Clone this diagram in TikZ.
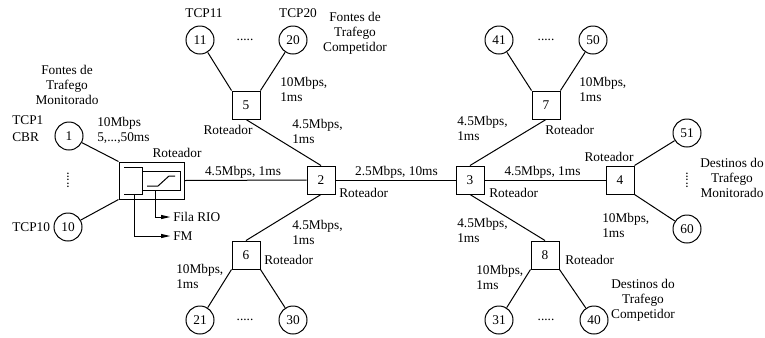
\documentclass[tikz,border=0pt]{standalone}
\usepackage{fontspec}
\setmainfont{Liberation Serif}
\usetikzlibrary{arrows.meta}
\definecolor{LinkClr}{rgb}{0,0,0}

\begin{document}
\begin{tikzpicture}[x=0.75pt,y=-0.75pt,
  host/.style={draw=LinkClr,circle,minimum size=21pt,inner sep=0pt,line width=0.75pt,font=\fontsize{10}{11}\selectfont},
  router/.style={draw=LinkClr,minimum size=21pt,inner sep=0pt,line width=0.75pt,font=\fontsize{10}{11}\selectfont},
  link/.style={draw=LinkClr,line width=0.75pt},
  txt/.style={inner sep=0pt,align=left,font=\fontsize{10}{11.25}\selectfont},
  tip/.style={-{Triangle[length=7pt,width=3pt]}}]
\useasboundingbox (0,0) rectangle (765,337);

% routers
\node[router,minimum width=48.75pt,minimum height=27.75pt] (r1) at (151.5,180.5) {};
\node[router] (r2) at (321,180) {2};
\node[router] (r3) at (470,180) {3};
\node[router] (r4) at (620,180) {4};
\node[router] (r5) at (246,105) {5};
\node[router] (r6) at (246,255) {6};
\node[router] (r7) at (546,105) {7};
\node[router] (r8) at (545,255) {8};

% hosts
\node[host] (h1) at (69,136) {1};
\node[host] (h10) at (68,227) {10};
\node[host] (h11) at (200,40) {11};
\node[host] (h20) at (293,40) {20};
\node[host] (h21) at (200,320) {21};
\node[host] (h30) at (293,320) {30};
\node[host] (h41) at (499,40) {41};
\node[host] (h50) at (593,40) {50};
\node[host] (h31) at (499,320) {31};
\node[host] (h40) at (594,320) {40};
\node[host] (h51) at (687,133) {51};
\node[host] (h60) at (687,229) {60};

% RIO queue inside router 1
\draw[link] (124,167) -- (142,167) -- (142,194) -- (124,194);
\draw[link] (142,171) rectangle (180,190);
\draw[link] (147,186) -- (158,186) -- (169,176) -- (175,176);
\coordinate (qrio) at (155,190);
\coordinate (qfm) at (134,194);

% links
\draw[link] (h1) -- (r1.north west);
\draw[link] (h10) -- (r1.south west);
\draw[link] (r1.east) -- (r2.west);
\draw[link] (h11) -- (r5.north west);
\draw[link] (h20) -- (r5.north east);
\draw[link] (r5.south) -- (r2.north);
\draw[link] (r2.south) -- (r6.north);
\draw[link] (h21) -- (r6.south west);
\draw[link] (h30) -- (r6.south east);
\draw[link] (r2.east) -- (r3.west);
\draw[link] (r3.north) -- (r7.south);
\draw[link] (h41) -- (r7.north west);
\draw[link] (h50) -- (r7.north east);
\draw[link] (r3.south) -- (r8.north);
\draw[link] (h31) -- (r8.south west);
\draw[link] (h40) -- (r8.south east);
\draw[link] (r3.east) -- (r4.west);
\draw[link] (r4.north east) -- (h51);
\draw[link] (r4.south east) -- (h60);

% labels
\node[txt,align=center] (fmon) at (67,85) {Fontes de\\Trafego\\Monitorado};
\node[txt,anchor=west] (tcp1) at (12,120) {TCP1};
\node[txt,anchor=west] (cbr) at (12,137) {CBR};
\node[txt,anchor=west] (tcp10) at (12,227) {TCP10};
\node[txt] (tcp11) at (204,13) {TCP11};
\node[txt] (tcp20) at (298,13) {TCP20};
\node[txt,align=center] (fcomp) at (355,33) {Fontes de\\Trafego\\Competidor};
\node[txt,anchor=west] (l1) at (97,130) {10Mbps\\5,...,50ms};
\node[txt] (rot1) at (177,153) {Roteador};
\node[txt,anchor=west] (fila) at (173,217) {Fila RIO};
\node[txt,anchor=west] (fm) at (173,236) {FM};
\node[txt] (l12) at (243,172) {4.5Mbps, 1ms};
\node[txt,anchor=west] (l5) at (280,89.5) {10Mbps,\\1ms};
\node[txt] (rot5) at (228,130) {Roteador};
\node[txt,anchor=west] (l25) at (292,131.5) {4.5Mbps,\\1ms};
\node[txt] (l23) at (396.5,172) {2.5Mbps, 10ms};
\node[txt,anchor=west] (rot2) at (339,193) {Roteador};
\node[txt,anchor=west] (l26) at (292,232.5) {4.5Mbps,\\1ms};
\node[txt,anchor=west] (rot6) at (264,260) {Roteador};
\node[txt,anchor=west] (l6) at (176,276) {10Mbps,\\1ms};
\node[txt,anchor=west] (l37) at (457,128) {4.5Mbps,\\1ms};
\node[txt,anchor=west] (l7) at (579,89.5) {10Mbps,\\1ms};
\node[txt,anchor=west] (rot7) at (545,130) {Roteador};
\node[txt] (l34) at (542.5,172) {4.5Mbps, 1ms};
\node[txt,anchor=west] (rot3) at (489,193) {Roteador};
\node[txt] (rot4) at (609,157) {Roteador};
\node[txt,align=center] (dmon) at (732,178) {Destinos do\\Trafego\\Monitorado};
\node[txt,anchor=west] (l4) at (602,225.5) {10Mbps,\\1ms};
\node[txt,anchor=west] (l38) at (457,230) {4.5Mbps,\\1ms};
\node[txt,anchor=west] (rot8) at (565,260) {Roteador};
\node[txt,anchor=west] (l8) at (476,277) {10Mbps,\\1ms};
\node[txt,align=center] (dcomp) at (643,300) {Destinos do\\Trafego\\Competidor};

% dots
\node[txt] (d1) at (245,40) {.....};
\node[txt] (d2) at (245,320) {.....};
\node[txt] (d3) at (546,40) {.....};
\node[txt] (d4) at (546,320) {.....};
\node[txt,rotate=90] (d5) at (68,180) {.....};
\node[txt,rotate=90] (d6) at (687,180) {.....};

% queue outputs
\draw[link,tip] (qrio) |- ([xshift=-2pt]fila.west);
\draw[link,tip] (qfm) |- ([xshift=-2pt]fm.west);
\end{tikzpicture}
\end{document}
